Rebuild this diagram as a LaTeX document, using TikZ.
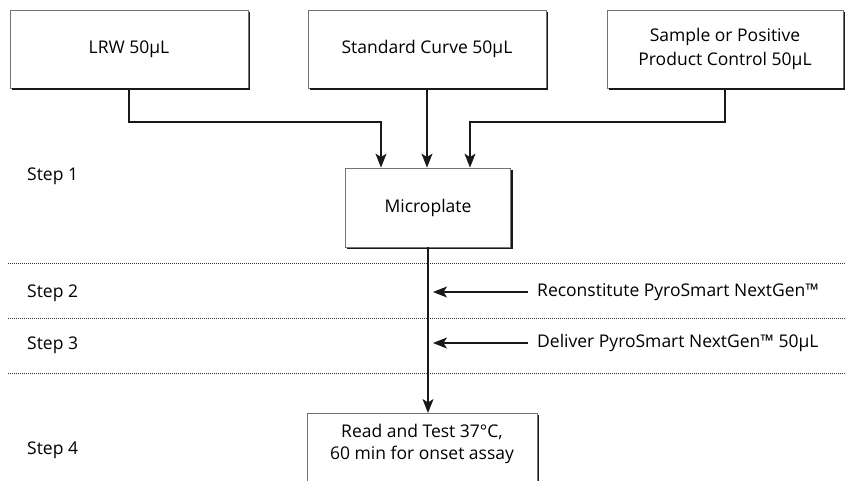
\documentclass[tikz,border=0pt]{standalone}
\usepackage{fontspec}
\setmainfont{Open Sans}
\usetikzlibrary{arrows.meta}
\begin{document}
\begin{tikzpicture}[x=1pt,y=-1pt,
  font=\fontsize{17.5}{24}\selectfont,
  box/.style={draw=black!55, line width=0.8pt, fill=white, align=center},
  shd/.style={draw=black!90, line width=1.8pt},
  arr/.style={draw=black!90, line width=1.2pt, -{Stealth[length=14pt,width=11pt,inset=3.5pt]}},
  sep/.style={draw=black!80, line width=0.7pt, dash pattern=on 1pt off 1pt},
  steplbl/.style={anchor=west, inner sep=0pt},
  side/.style={anchor=west, inner sep=0pt}]
\useasboundingbox (0,0) rectangle (845,481);
\fill[white] (0,0) rectangle (845,481);

\node[box, minimum width=238pt, minimum height=78pt] (lrw) at (129,49) {LRW 50µL};
\node[box, minimum width=238pt, minimum height=78pt] (std) at (427,49) {Standard Curve 50µL};
\node[box, minimum width=236pt, minimum height=78pt] (smp) at (725,49) {Sample or Positive\\Product Control 50µL};
\node[box, minimum width=165pt, minimum height=79pt] (micro) at (428,207.5) {Microplate};
\node[box, minimum width=230pt, minimum height=80pt, anchor=north] (final) at (422,413) {};
\node[align=center, anchor=north, inner sep=0pt, font=\fontsize{17.5}{22}\selectfont] (ftext) at (422,424) {Read and Test 37°C,\\60 min for onset assay};

\foreach \n in {lrw,std,smp,micro,final}{
  \draw[shd] ([xshift=1pt,yshift=-2pt]\n.north east) -- ([xshift=1pt,yshift=-1pt]\n.south east) -- ([xshift=2pt,yshift=-1pt]\n.south west);
}

\coordinate (j1) at (381,122);
\coordinate (j3) at (470,122);
\draw[arr] (lrw.south) |- (j1) -- (j1 |- micro.north);
\draw[arr] (std.south) -- (std.south |- micro.north);
\draw[arr] (smp.south) |- (j3) -- (j3 |- micro.north);
\draw[arr] (micro.south) -- (micro.south |- final.north);

\coordinate (s1a) at (8,263); \coordinate (s1b) at (845,263);
\coordinate (s2a) at (8,318); \coordinate (s2b) at (845,318);
\coordinate (s3a) at (8,373); \coordinate (s3b) at (845,373);
\draw[sep] (s1a) -- (s1b);
\draw[sep] (s2a) -- (s2b);
\draw[sep] (s3a) -- (s3b);

\node[steplbl] (st1) at (27,176) {Step 1};
\node[steplbl] (st2) at (27,293) {Step 2};
\node[steplbl] (st3) at (27,345) {Step 3};
\node[steplbl] (st4) at (27,450) {Step 4};

\node[side] (r2) at (537,292) {Reconstitute PyroSmart NextGen™};
\node[side] (r3) at (537,343) {Deliver PyroSmart NextGen™ 50µL};
\coordinate (a2) at (433,292);
\coordinate (a3) at (433,343);
\draw[arr] ([xshift=-9pt]r2.west) -- (a2);
\draw[arr] ([xshift=-9pt]r3.west) -- (a3);
\end{tikzpicture}
\end{document}
